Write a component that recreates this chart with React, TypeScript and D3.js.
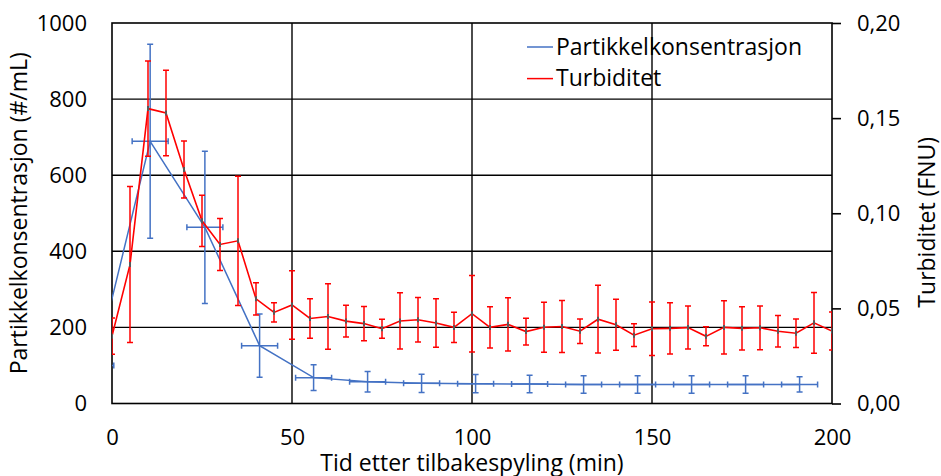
import { useEffect, useRef } from 'react'
import * as d3 from 'd3'

// partikkelkonsentrasjon (#/mL), x = tid (min), med feil i x og y
const partikkelTid = [-4.5, 10.6, 25.8, 41, 56, 71, 86, 101, 116, 131, 146, 161, 176, 191]
const partikkelVerdi = [100, 689, 463, 152, 68, 57, 53, 52, 51, 50, 50, 50, 50, 50]
const partikkelFeilY = [30, 255, 200, 83, 34, 27, 24, 24, 23, 23, 23, 23, 23, 20]
const partikkelFeilX = [5, 5, 5, 5, 5, 5, 5, 5, 5, 5, 5, 5, 5, 5]

// turbiditet (FNU), hvert 5. minutt fra 0 til 200
const turbTid = [
	0, 5, 10, 15, 20, 25, 30, 35, 40, 45, 50, 55, 60, 65, 70, 75, 80, 85, 90, 95, 100,
	105, 110, 115, 120, 125, 130, 135, 140, 145, 150, 155, 160, 165, 170, 175, 180, 185,
	190, 195, 200,
]
const turbVerdi = [
	0.0354, 0.073, 0.155, 0.1527, 0.123, 0.096, 0.0836, 0.0855, 0.055, 0.0479, 0.0518,
	0.0447, 0.0457, 0.0433, 0.042, 0.0393, 0.0434, 0.044, 0.0423, 0.04, 0.0472, 0.04,
	0.0416, 0.0378, 0.0401, 0.0405, 0.038, 0.0443, 0.0414, 0.0359, 0.0393, 0.0395,
	0.0399, 0.0353, 0.04, 0.0395, 0.0398, 0.038, 0.0369, 0.0424, 0.0381,
]
const turbFeil = [
	0.0095, 0.041, 0.025, 0.0225, 0.015, 0.0135, 0.0137, 0.034, 0.0085, 0.005, 0.018,
	0.0104, 0.0172, 0.0084, 0.009, 0.005, 0.0148, 0.0117, 0.0127, 0.008, 0.0201, 0.0108,
	0.014, 0.007, 0.0131, 0.0137, 0.0064, 0.0178, 0.0134, 0.006, 0.0141, 0.0135, 0.0113,
	0.005, 0.014, 0.0114, 0.0115, 0.0083, 0.0075, 0.016, 0.01,
]

const xTicks = [0, 50, 100, 150, 200]
const yTicks = [0, 200, 400, 600, 800, 1000]
const y2Ticks = [0, 0.05, 0.1, 0.15, 0.2]
const legendLabels = ['Partikkelkonsentrasjon', 'Turbiditet']

const BLUE = '#4472C4'
const RED = '#FF0000'
const FONT = "'Open Sans', sans-serif"

export default function App() {
	const ref = useRef<SVGSVGElement>(null)

	const W = 941
	const H = 476
	const margins = { top: 23, right: 109, bottom: 72.5, left: 112 }
	const width = W - margins.left - margins.right
	const height = H - margins.top - margins.bottom

	useEffect(() => {
		const svg = d3.select(ref.current)
		svg.selectAll('*').remove()

		const x = d3.scaleLinear().domain([0, 200]).range([margins.left, margins.left + width])
		const y = d3.scaleLinear().domain([0, 1000]).range([margins.top + height, margins.top])
		const y2 = d3.scaleLinear().domain([0, 0.2]).range([margins.top + height, margins.top])

		svg
			.append('defs')
			.append('clipPath')
			.attr('id', 'plotClip')
			.append('rect')
			.attr('x', margins.left)
			.attr('y', margins.top - 2)
			.attr('width', width)
			.attr('height', height + 4)

		// gridlines
		const grid = svg.append('g')
		grid
			.selectAll('line.h')
			.data(yTicks.slice(1, -1))
			.enter()
			.append('line')
			.attr('x1', margins.left)
			.attr('x2', margins.left + width)
			.attr('y1', (d) => y(d))
			.attr('y2', (d) => y(d))
			.attr('stroke', '#000')
			.attr('stroke-width', 1.4)
		grid
			.selectAll('line.v')
			.data(xTicks.slice(1, -1))
			.enter()
			.append('line')
			.attr('x1', (d) => x(d))
			.attr('x2', (d) => x(d))
			.attr('y1', margins.top)
			.attr('y2', margins.top + height)
			.attr('stroke', '#000')
			.attr('stroke-width', 1.4)

		// frame
		svg
			.append('rect')
			.attr('x', margins.left)
			.attr('y', margins.top)
			.attr('width', width)
			.attr('height', height)
			.attr('fill', 'none')
			.attr('stroke', '#000')
			.attr('stroke-width', 1.6)

		const plot = svg.append('g').attr('clip-path', 'url(#plotClip)')
		const cap = 3

		// partikkel: feilstolper
		const pIdx = d3.range(partikkelTid.length)
		const pErr = plot.append('g').attr('stroke', BLUE).attr('stroke-width', 1.5)
		pIdx.forEach((i) => {
			const cx = x(partikkelTid[i])
			const cy = y(partikkelVerdi[i])
			const yTop = y(partikkelVerdi[i] + partikkelFeilY[i])
			const yBot = y(Math.max(0, partikkelVerdi[i] - partikkelFeilY[i]))
			const xl = x(partikkelTid[i] - partikkelFeilX[i])
			const xr = x(partikkelTid[i] + partikkelFeilX[i])
			pErr.append('line').attr('x1', cx).attr('x2', cx).attr('y1', yTop).attr('y2', yBot)
			pErr.append('line').attr('x1', cx - cap).attr('x2', cx + cap).attr('y1', yTop).attr('y2', yTop)
			pErr.append('line').attr('x1', cx - cap).attr('x2', cx + cap).attr('y1', yBot).attr('y2', yBot)
			pErr.append('line').attr('x1', xl).attr('x2', xr).attr('y1', cy).attr('y2', cy)
			pErr.append('line').attr('x1', xl).attr('x2', xl).attr('y1', cy - cap).attr('y2', cy + cap)
			pErr.append('line').attr('x1', xr).attr('x2', xr).attr('y1', cy - cap).attr('y2', cy + cap)
		})

		const pLine = d3
			.line<number>()
			.x((i) => x(partikkelTid[i]))
			.y((i) => y(partikkelVerdi[i]))
		plot
			.append('path')
			.datum(pIdx)
			.attr('d', pLine)
			.attr('fill', 'none')
			.attr('stroke', BLUE)
			.attr('stroke-width', 1.5)

		// turbiditet: feilstolper
		const tIdx = d3.range(turbTid.length)
		const tErr = plot.append('g').attr('stroke', RED).attr('stroke-width', 1.5)
		tIdx.forEach((i) => {
			const cx = x(turbTid[i])
			const yTop = y2(turbVerdi[i] + turbFeil[i])
			const yBot = y2(turbVerdi[i] - turbFeil[i])
			tErr.append('line').attr('x1', cx).attr('x2', cx).attr('y1', yTop).attr('y2', yBot)
			tErr.append('line').attr('x1', cx - cap).attr('x2', cx + cap).attr('y1', yTop).attr('y2', yTop)
			tErr.append('line').attr('x1', cx - cap).attr('x2', cx + cap).attr('y1', yBot).attr('y2', yBot)
		})

		const tLine = d3
			.line<number>()
			.x((i) => x(turbTid[i]))
			.y((i) => y2(turbVerdi[i]))
		plot
			.append('path')
			.datum(tIdx)
			.attr('d', tLine)
			.attr('fill', 'none')
			.attr('stroke', RED)
			.attr('stroke-width', 1.6)

		// small grey markers on the red points
		plot
			.append('g')
			.selectAll('line')
			.data(tIdx)
			.enter()
			.append('line')
			.attr('x1', (i) => x(turbTid[i]))
			.attr('x2', (i) => x(turbTid[i]))
			.attr('y1', (i) => y2(turbVerdi[i]) - 2.5)
			.attr('y2', (i) => y2(turbVerdi[i]) + 2.5)
			.attr('stroke', '#595959')
			.attr('stroke-width', 2)

		// axes
		const styleAxis = (g: any) => {
			g.selectAll('text').style('font-family', FONT).style('font-size', '22px').attr('fill', '#000')
			g.selectAll('line').attr('stroke', '#000').attr('stroke-width', 1.6)
		}

		svg
			.append('g')
			.attr('transform', `translate(${margins.left},0)`)
			.call(
				d3
					.axisLeft(y)
					.tickValues(yTicks)
					.tickSize(0)
					.tickPadding(25)
					.tickFormat((d: any) => String(d))
			)
			.call((g: any) => g.select('.domain').remove())
			.call(styleAxis)

		svg
			.append('g')
			.attr('transform', `translate(0,${margins.top + height})`)
			.call(
				d3
					.axisBottom(x)
					.tickValues(xTicks)
					.tickSize(0)
					.tickPadding(26)
					.tickFormat((d: any) => String(d))
			)
			.call((g: any) => g.select('.domain').remove())
			.call(styleAxis)

		svg
			.append('g')
			.attr('transform', `translate(${margins.left + width},0)`)
			.call(
				d3
					.axisRight(y2)
					.tickValues(y2Ticks)
					.tickSize(9)
					.tickPadding(16)
					.tickFormat((d: any) => d3.format('.2f')(d).replace('.', ','))
			)
			.call((g: any) => g.select('.domain').remove())
			.call(styleAxis)

		// axis titles
		svg
			.append('text')
			.attr('transform', `translate(27,${margins.top + height / 2}) rotate(-90)`)
			.style('text-anchor', 'middle')
			.style('font-family', FONT)
			.style('font-size', '23px')
			.text('Partikkelkonsentrasjon (#/mL)')

		svg
			.append('text')
			.attr('transform', `translate(935,${margins.top + height / 2 + 9}) rotate(-90)`)
			.style('text-anchor', 'middle')
			.style('font-family', FONT)
			.style('font-size', '23px')
			.text('Turbiditet (FNU)')

		svg
			.append('text')
			.attr('x', margins.left + width / 2)
			.attr('y', 471)
			.style('text-anchor', 'middle')
			.style('font-family', FONT)
			.style('font-size', '23px')
			.text('Tid etter tilbakespyling (min)')

		// legend
		const legend = svg.append('g').attr('transform', 'translate(527,47)')
		legendLabels.forEach((label, i) => {
			const row = legend.append('g').attr('transform', `translate(0,${i * 31.6})`)
			row
				.append('line')
				.attr('x1', 0)
				.attr('x2', 26)
				.attr('stroke', i === 0 ? BLUE : RED)
				.attr('stroke-width', 1.5)
			row
				.append('text')
				.attr('x', 29)
				.attr('y', 7.5)
				.style('font-family', FONT)
				.style('font-size', '23px')
				.text(label)
		})
	})

	return (
		<svg
			ref={ref}
			width={W}
			height={H}
			style={{ position: 'absolute', left: 0, top: 0, background: '#fff' }}
		/>
	)
}
